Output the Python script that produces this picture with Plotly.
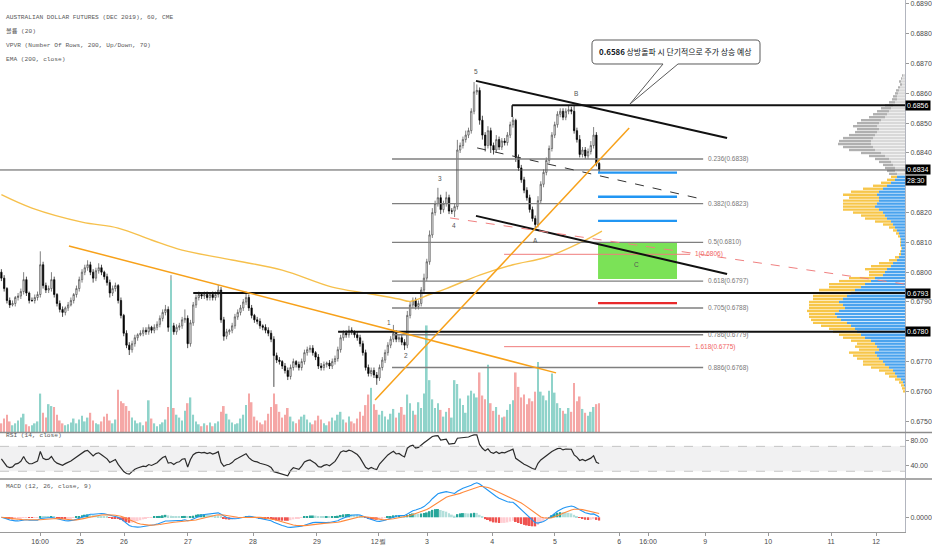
import pandas as pd
import plotly.graph_objects as go

# ---------------- data (prices in pips: 6834 -> 0.6834) ----------------
title_lines = ["AUSTRALIAN DOLLAR FUTURES (DEC 2019), 60, CME", "볼륨 (20)",
               "VPVR (Number Of Rows, 200, Up/Down, 70)", "EMA (200, close)"]

first_open = 6800
close_pips = [
    6798, 6794.5, 6790.5, 6789, 6789.5, 6791.5, 6792, 6793.5, 6797.5, 6793,
    6790.5, 6790.5, 6791.5, 6792.5, 6802.5, 6795.5, 6794, 6794.5, 6797.5, 6792.5,
    6789.5, 6787.5, 6786.5, 6788, 6789, 6790.5, 6792.5, 6794.5, 6797.5, 6800,
    6801.5, 6802.5, 6800, 6798, 6800.5, 6801.5, 6800, 6798.5, 6796.5, 6793,
    6794.5, 6795.5, 6790.5, 6785.5, 6779.5, 6775.5, 6774, 6776, 6778, 6779,
    6779.5, 6780.5, 6780, 6781.5, 6780.5, 6781.5, 6782.5, 6784.5, 6786.5, 6787.5,
    6781.5, 6782, 6780, 6781.5, 6782, 6784, 6784.5, 6776, 6783, 6789,
    6791.5, 6792.5, 6792, 6792.5, 6791.5, 6792.5, 6791.5, 6792.5, 6794, 6784,
    6778.5, 6780, 6780.5, 6782, 6785, 6786.5, 6788, 6790, 6791.5, 6788,
    6785.5, 6784, 6783.5, 6782, 6781.5, 6780.5, 6779.5, 6777.5, 6772, 6770.5,
    6770, 6768.5, 6767, 6765, 6768, 6770, 6769, 6768, 6770, 6773,
    6774, 6774.5, 6773, 6771.5, 6768.5, 6768, 6769, 6769.5, 6768.5, 6770,
    6771, 6774, 6778, 6779.5, 6779, 6780.5, 6780, 6779, 6778, 6776,
    6773, 6768, 6766, 6767, 6765.5, 6764.5, 6768, 6770.5, 6773, 6775.5,
    6777.5, 6779.5, 6777.5, 6778, 6776.5, 6775.5, 6785.5, 6789, 6790.5, 6788.5,
    6789.5, 6794, 6798, 6803.5, 6812.5, 6820, 6823, 6825, 6821, 6823,
    6825, 6820.5, 6820.5, 6822, 6841, 6842.5, 6844.5, 6846, 6847.5, 6854,
    6860.5, 6861, 6851, 6846, 6842.5, 6847.5, 6842.5, 6841, 6844.5, 6842,
    6844, 6843.5, 6846, 6849.5, 6851, 6838.5, 6835, 6831, 6827.5, 6825,
    6821, 6818, 6816, 6824, 6829.5, 6833.5, 6837.5, 6841.5, 6846, 6849.5,
    6853, 6854, 6852, 6854, 6854.5, 6854, 6847.5, 6844.5, 6839.5, 6841,
    6839, 6840.5, 6842.5, 6846, 6836.5, 6834.5,
]
# wick lengths above / below the candle body (pips)
wick_up = [
    1, 1, 0.5, 1, 1, 0.5, 1, 1, 2.5, 1,
    0.5, 1, 1, 1, 4.5, 1, 1, 1, 2.5, 1,
    0.5, 1, 1, 0.5, 1, 1, 0.5, 1, 1, 1,
    1, 1.5, 1, 1, 1, 1.5, 1, 0.5, 1, 1,
    1, 1, 0.5, 1, 0.5, 1, 1, 1, 1, 0.5,
    1, 1, 1, 1, 0.5, 1, 1, 1, 1, 1.5,
    1, 17, 1, 1, 1, 1, 3, 1, 1, 1,
    1, 1, 0.5, 1, 1, 0.5, 1, 1, 1.7, 1,
    1, 1, 0.5, 1, 1, 1, 1, 1, 2, 1,
    1, 0.5, 1, 1, 0.5, 1, 1, 1, 1, 1,
    1, 0.5, 1, 1, 1, 1, 0.5, 1, 1, 1,
    1, 1, 1, 0.5, 1, 1, 1, 0.5, 1, 1,
    1, 1, 1, 1, 1, 1.5, 1, 0.5, 1, 1,
    1, 1, 1, 1, 1, 1, 1, 1, 1, 1,
    1, 2.8, 1, 1, 1, 1, 1.5, 1, 1, 1,
    1, 1, 1.5, 1, 1.5, 1.5, 1, 3.3, 1, 1,
    2, 1, 1, 1, 3.4, 1, 1, 1.5, 1, 1,
    3.3, 2, 1, 1.5, 1, 1.5, 1, 1, 1.5, 1,
    1, 1, 1, 1, 1.1, 0.5, 1, 1, 1, 1,
    1, 1, 1, 1.5, 1, 1, 1, 1, 1, 1,
    1, 1, 1, 1, 1.6, 1, 2.1, 1, 1.5, 1,
    1, 1, 1.5, 2.7, 1, 0.5,
]
wick_dn = [
    1, 1, 1, 1, 0.5, 1, 1, 1, 1, 1,
    1, 0.5, 1, 1, 1, 1, 1, 1, 1, 1,
    1, 1, 1.5, 1, 1, 0.5, 1, 1, 1, 1,
    1, 1, 1, 1.5, 1, 1, 1, 1, 1, 1.5,
    1, 1, 1, 1, 1, 1, 1.8, 1, 1, 1,
    0.5, 1, 1, 1, 1, 1, 1, 1, 1, 1,
    1.5, 11, 1, 1, 1, 1, 1, 1.5, 1, 1,
    1, 1, 1, 1, 1, 1, 1, 1, 1, 1,
    1.5, 1, 1, 1, 1, 1, 1, 1, 1, 1,
    1, 1, 1, 1, 1, 1, 1, 1, 10.5, 1,
    1, 1, 1, 1.2, 1, 1, 1, 1, 1, 1,
    1, 1, 1, 1, 1, 1, 1, 1, 1, 1,
    1, 1, 1, 1, 1, 1, 1, 1, 1, 1,
    1, 1, 1, 1, 1, 2.3, 1, 1, 1, 1,
    1, 1, 1, 1, 1, 1.6, 1, 1, 1, 1,
    1, 1, 1, 1, 1, 1, 1, 1, 1.5, 1,
    1, 1, 1, 2, 1, 1, 1, 1, 1, 1,
    1, 1, 1.5, 1.5, 2, 1, 2.5, 1.5, 1, 1,
    1, 1, 1, 1, 1, 1.5, 1, 1, 1, 1,
    1, 1, 1.2, 1, 1, 1, 1, 1, 1, 1,
    1, 1, 1, 1, 1, 1, 1, 1, 1, 1,
    1, 1, 1, 1, 1, 1.2,
]
volume = [
    900, 1400, 1800, 1100, 700, 900, 1200, 1500, 1900, 800,
    600, 700, 900, 1100, 4000, 2000, 1500, 2900, 2700, 2600,
    1800, 1200, 900, 700, 800, 1000, 1400, 900, 1300, 1700,
    1100, 1500, 2000, 1200, 900, 800, 1100, 1600, 1900, 1200,
    900, 1300, 4400, 3200, 3000, 2700, 2200, 1500, 1200, 900,
    1000, 700, 1100, 3300, 1400, 900, 600, 800, 1000, 1300,
    2600, 15800, 2500, 1800, 1500, 1200, 2200, 3000, 3600, 1800,
    1100, 800, 600, 900, 700, 1000, 600, 900, 1100, 2100,
    2700, 1900, 1300, 1000, 800, 900, 1400, 1800, 2800, 4000,
    3100, 1600, 1200, 1000, 800, 1200, 1900, 2600, 4000, 2900,
    2100, 1500, 1800, 2500, 1600, 1100, 900, 1300, 1600, 1800,
    1300, 1000, 800, 1200, 1700, 1300, 900, 700, 1100, 1500,
    1200, 1800, 2100, 1300, 1000, 1600, 1100, 900, 1400, 2100,
    1700, 2800, 3900, 4600, 2900, 2300, 1800, 2200, 1600, 1300,
    1900, 2400, 1500, 2000, 2600, 1800, 3900, 3000, 2200, 1800,
    3100, 2500, 4000, 11100, 5400, 3400, 2500, 3000, 2300, 1600,
    2100, 2500, 1500, 5400, 5000, 3500, 2800, 2000, 3800, 4300,
    4000, 3600, 6200, 3800, 3400, 7000, 3000, 2200, 2600, 1800,
    1500, 1600, 2300, 2900, 3300, 6200, 4700, 3600, 3900, 2900,
    3500, 3200, 4200, 7300, 4200, 3800, 3300, 4300, 6100, 4100,
    3000, 2500, 2200, 1900, 2500, 2100, 5100, 3200, 3700, 2400,
    2000, 1700, 2100, 2600, 2900, 3000,
]

# EMA(200) read at a few bars
ema_bar = [0, 11, 29, 42, 54, 65, 83, 101, 119, 131, 143, 147, 154, 160, 172, 184, 196, 208, 216]
ema_pips = [6826, 6821.5, 6816.8, 6814.8, 6810.8, 6807.4, 6804.1, 6800.7, 6795.0, 6793.0,
            6791.0, 6790.2, 6792.5, 6794.5, 6799.0, 6802.5, 6805.0, 6809.8, 6813.8]

tick_bar = [13.9, 28.3, 44.1, 67.1, 90.5, 113.5, 135.5, 153.1, 176.5, 199.1,
            222.2, 232.6, 253.1, 275.8, 298.4, 314.6]
tick_text = ["16:00", "25", "26", "27", "28", "29", "12월", "3", "4", "5",
             "6", "16:00", "9", "10", "11", "12"]
# right-axis price ticks (0.6780 and 0.6830 sit under the black price boxes)
price_ticks = [0.6750, 0.6760, 0.6770, 0.6790, 0.6800, 0.6810, 0.6820,
               0.6840, 0.6850, 0.6860, 0.6870, 0.6880, 0.6890]

# visible-range volume profile, one row per pip from 6866 down to 6760 (hundreds of contracts)
vp_rows = list(range(6866, 6759, -1))
vp_up = [2, 3, 4, 3, 5, 6, 7, 8, 8, 10, 12, 14, 16, 18, 20, 24, 26, 28, 26, 28,
         30, 32, 34, 34, 32, 30, 24, 20, 16, 14, 12, 10, 10, 8, 8, 10, 14, 18, 22, 26,
         28, 26, 26, 28, 30, 26, 22, 20, 18, 14, 12, 10, 8, 6, 5, 4, 4, 4, 3, 4,
         4, 6, 8, 12, 14, 18, 20, 22, 30, 34, 40, 44, 50, 54, 58, 62, 66, 62, 60, 66,
         70, 68, 64, 58, 54, 50, 48, 44, 40, 34, 30, 28, 26, 30, 28, 26, 22, 20, 16, 12,
         10, 8, 4, 2, 1, 0, 0]
vp_dn = [1, 1, 2, 2, 2, 3, 3, 4, 5, 6, 8, 10, 12, 14, 16, 20, 22, 24, 22, 22,
         26, 30, 32, 33, 30, 26, 20, 16, 14, 12, 10, 10, 8, 8, 6, 8, 10, 14, 20, 28,
         34, 30, 36, 34, 32, 36, 30, 24, 22, 16, 10, 6, 4, 3, 2, 1, 1, 1, 1, 1,
         2, 4, 8, 14, 20, 22, 16, 14, 26, 32, 36, 32, 36, 32, 34, 30, 30, 34, 36, 32,
         26, 28, 30, 34, 30, 26, 24, 22, 22, 20, 18, 22, 20, 26, 24, 22, 20, 22, 18, 14,
         10, 8, 6, 4, 3, 3, 2]
value_area_top = 6833

# drawings on the chart
fib_ratio = ["0.236", "0.382", "0.5", "0.618", "0.705", "0.786", "0.886"]
fib_price = [0.6838, 0.6823, 0.6810, 0.6797, 0.6788, 0.6779, 0.6768]
ext_ratio = ["1", "1.618"]
ext_price = [0.6806, 0.6775]
blue_targets = [0.68334, 0.68253, 0.68172]
red_target = 0.67896
box_low, box_high = 0.67977, 0.68101
wave_text = ["1", "2", "3", "4", "5", "A", "B", "C"]
wave_bar = [139.4, 145.5, 157.8, 162.8, 170.7, 192.0, 206.7, 228.6]
wave_price = [0.67830, 0.67722, 0.68316, 0.68155, 0.68675, 0.68105, 0.68598, 0.68027]
price_boxes = [("0.6856", 0.6856), ("0.6834", 0.68343), ("0.6793", 0.6793), ("0.6780", 0.6780)]

# ---------------- derived series ----------------
n = len(close_pips)
bars = list(range(n))
open_pips = [first_open] + close_pips[:-1]
high_pips = [max(o, c) + w for o, c, w in zip(open_pips, close_pips, wick_up)]
low_pips = [min(o, c) - w for o, c, w in zip(open_pips, close_pips, wick_dn)]
p = lambda seq: [v / 10000 for v in seq]

closes = pd.Series(p(close_pips))
delta = closes.diff().fillna(0)
# RSI(14): start the Wilder averages from a neutral state (no history before the window)
seed = pd.Series([0.0001])
gain = pd.concat([seed, delta.clip(lower=0)], ignore_index=True).ewm(alpha=1 / 14, adjust=False).mean()[1:]
loss = pd.concat([seed, -delta.clip(upper=0)], ignore_index=True).ewm(alpha=1 / 14, adjust=False).mean()[1:]
rsi = (100 - 100 / (1 + gain.values / loss.values)).clip(0, 100)
macd = closes.ewm(span=12, adjust=False).mean() - closes.ewm(span=26, adjust=False).mean()
signal = macd.ewm(span=9, adjust=False).mean()
hist = macd - signal

hist_colors = []
for i, h in enumerate(hist):
    prev = hist.iloc[i - 1] if i else 0
    if h >= 0:
        hist_colors.append("#26a69a" if h >= prev else "#b2dfdb")
    else:
        hist_colors.append("#ffcdd2" if h >= prev else "#ef5350")

vol_colors = ["#8fd3ca" if c >= o else "#f5a7a6" for o, c in zip(open_pips, close_pips)]
up_colors = ["#d9d9d9" if r >= value_area_top else "#4aa3ee" for r in vp_rows]
dn_colors = ["#b0b0b0" if r >= value_area_top else "#f7c64a" for r in vp_rows]

# ---------------- figure ----------------
fig = go.Figure()

fig.add_trace(go.Bar(x=bars, y=volume, yaxis="y2", marker_color=vol_colors,
                     marker_line_width=0, width=0.6))
fig.add_trace(go.Bar(y=p(vp_rows), x=vp_up, xaxis="x2", yaxis="y", orientation="h",
                     marker_color=up_colors, marker_line_width=0, width=0.00008))
fig.add_trace(go.Bar(y=p(vp_rows), x=vp_dn, base=vp_up, xaxis="x2", yaxis="y", orientation="h",
                     marker_color=dn_colors, marker_line_width=0, width=0.00008))
fig.add_trace(go.Scatter(x=ema_bar, y=p(ema_pips), mode="lines",
                         line=dict(color="#f6c04c", width=1.4, shape="spline")))
fig.add_trace(go.Candlestick(
    x=bars, open=p(open_pips), high=p(high_pips), low=p(low_pips), close=p(close_pips),
    increasing=dict(fillcolor="#ffffff", line=dict(color="#4a4a4a", width=0.7)),
    decreasing=dict(fillcolor="#000000", line=dict(color="#000000", width=0.7)),
    whiskerwidth=0))

fig.add_trace(go.Scatter(x=bars, y=rsi, yaxis="y3", mode="lines",
                         line=dict(color="#2b2b2b", width=1.2)))
fig.add_trace(go.Bar(x=bars, y=hist, yaxis="y4", marker_color=hist_colors,
                     marker_line_width=0, width=0.7))
fig.add_trace(go.Scatter(x=bars, y=macd, yaxis="y4", mode="lines",
                         line=dict(color="#2196f3", width=1.1)))
fig.add_trace(go.Scatter(x=bars, y=signal, yaxis="y4", mode="lines",
                         line=dict(color="#ff8a3d", width=1.1)))

X_END = 325
shapes = []


def seg(x0, y0, x1, y1, color, width=1.5, dash="solid", yref="y"):
    shapes.append(dict(type="line", xref="x", yref=yref, x0=x0, y0=y0, x1=x1, y1=y1,
                       line=dict(color=color, width=width, dash=dash)))


# green target zone
shapes.append(dict(type="rect", xref="x", yref="y", x0=214.6, x1=243, y0=box_low, y1=box_high,
                   fillcolor="#7be257", line_width=0))
for fp in fib_price:
    seg(140.5, fp, 252.4, fp, "#7f7f7f", 1.4)
for ep in ext_price:
    seg(180.8, ep, 247.7, ep, "#f07c7c", 1)
for bp in blue_targets:
    seg(214.6, bp, 243, bp, "#2196f3", 2.4)
seg(214.6, red_target, 243, red_target, "#e8292b", 2.4)

# horizontal levels
seg(183.7, 0.6856, X_END, 0.6856, "#111111", 2)
seg(183.7, 0.6856, 183.7, 0.68521, "#111111", 1.5)
seg(-0.5, 0.68343, X_END, 0.68343, "#555555", 1)
seg(69, 0.6793, X_END, 0.6793, "#111111", 2)
seg(121.1, 0.6780, X_END, 0.6780, "#111111", 2)

# trend lines
seg(170.7, 0.68642, 261.0, 0.68450, "#111111", 2)
seg(170.7, 0.68189, 261.0, 0.67994, "#111111", 2)
seg(171.1, 0.68417, 250.2, 0.68249, "#333333", 1, "dash")
seg(161.4, 0.68182, X_END, 0.67960, "#f08080", 1, "dash")
seg(134.4, 0.67571, 225.8, 0.68484, "#f7a11a", 1.5)
seg(24.3, 0.68088, 199.5, 0.67662, "#f7a11a", 1.5)

# RSI band
shapes.append(dict(type="rect", xref="paper", yref="y3", x0=0, x1=1, y0=30, y1=70,
                   fillcolor="#f1f1f2", line_width=0, layer="below"))
for lv in (30, 70):
    shapes.append(dict(type="line", xref="paper", yref="y3", x0=0, x1=1, y0=lv, y1=lv,
                       line=dict(color="#b8b8b8", width=0.8, dash="dash")))

# pane separators
for yy in (0.1870, 0.0996):
    shapes.append(dict(type="line", xref="paper", yref="paper", x0=0, x1=1.03, y0=yy, y1=yy,
                       line=dict(color="#8c8c8c", width=1.5)))

# callout bubble
x0, x1, yt, yb = 0.65414, 0.83978, 0.92481, 0.87970
rx, ry = 0.00442, 0.00752
wl, wr, tx, ty = 0.73260, 0.74917, 0.69613, 0.80451
path = (f"M {x0 + rx},{yt} L {x1 - rx},{yt} Q {x1},{yt} {x1},{yt - ry} L {x1},{yb + ry} "
        f"Q {x1},{yb} {x1 - rx},{yb} L {wr},{yb} L {tx},{ty} L {wl},{yb} L {x0 + rx},{yb} "
        f"Q {x0},{yb} {x0},{yb + ry} L {x0},{yt - ry} Q {x0},{yt} {x0 + rx},{yt} Z")
shapes.append(dict(type="path", xref="paper", yref="paper", path=path,
                   fillcolor="#ffffff", line=dict(color="#5a5a5a", width=1)))

annotations = []
small = dict(family="Liberation Sans", size=6.5, color="#787878")
for r, fp in zip(fib_ratio, fib_price):
    annotations.append(dict(x=253.3, y=fp, xref="x", yref="y", text=f"{r}({fp:.4f})",
                            showarrow=False, xanchor="left", font=small))
for r, ep in zip(ext_ratio, ext_price):
    annotations.append(dict(x=248.6, y=ep, xref="x", yref="y", text=f"{r}({ep:.4f})",
                            showarrow=False, xanchor="left",
                            font=dict(family="Liberation Sans", size=6.5, color="#f06464")))
for t, wb, wp in zip(wave_text, wave_bar, wave_price):
    annotations.append(dict(x=wb, y=wp, xref="x", yref="y", text=t, showarrow=False,
                            font=dict(family="Liberation Sans", size=6.5, color="#555555")))
for t, pr in price_boxes:
    annotations.append(dict(x=1.0, y=pr, xref="paper", yref="y", text=t, showarrow=False,
                            xanchor="left", bgcolor="#000000", borderpad=1,
                            font=dict(family="Liberation Sans", size=7, color="#ffffff")))
annotations.append(dict(x=1.0, y=0.68343, xref="paper", yref="y", text="28:30", yshift=-11,
                        showarrow=False, xanchor="left", bgcolor="#000000", borderpad=1,
                        font=dict(family="Liberation Sans", size=7, color="#ffffff")))
for t, yy in zip(title_lines, (0.9774, 0.9511, 0.9248, 0.8985)):
    annotations.append(dict(x=0.004, y=yy, xref="paper", yref="paper", text=t, showarrow=False,
                            xanchor="left", font=dict(family="Liberation Mono, Noto Sans CJK KR",
                                                      size=6.2, color="#5a5a5a")))
annotations.append(dict(x=0.004, y=0.171, xref="paper", yref="paper", text="RSI (14, close)",
                        showarrow=False, xanchor="left",
                        font=dict(family="Liberation Mono", size=6.2, color="#5a5a5a")))
annotations.append(dict(x=0.004, y=0.0752, xref="paper", yref="paper", text="MACD (12, 26, close, 9)",
                        showarrow=False, xanchor="left",
                        font=dict(family="Liberation Mono", size=6.2, color="#5a5a5a")))
annotations.append(dict(x=0.6597, y=0.9023, xref="paper", yref="paper", xanchor="left",
                        yanchor="middle",
                        text="<b>0.6586</b> 상방돌파 시 단기적으로 주가 상승 예상", showarrow=False,
                        font=dict(family="Noto Sans CJK KR", size=7.9, color="#131722")))

macd_top = float(macd.max()) * 1.08
macd_bottom = -macd_top * 0.283 / 0.717
axis_font = dict(family="Liberation Sans", size=7, color="#4a4a4a")

fig.update_layout(
    width=932, height=550, margin=dict(l=0, r=27, t=0, b=18, autoexpand=False),
    paper_bgcolor="#ffffff", plot_bgcolor="#ffffff", showlegend=False,
    barmode="overlay", shapes=shapes, annotations=annotations, font=axis_font,
    xaxis=dict(domain=[0, 1], range=[-0.5, X_END], anchor="y4", tickvals=tick_bar,
               ticktext=tick_text, showgrid=False, zeroline=False, showline=True,
               linecolor="#9a9a9a", ticks="outside", ticklen=3, tickcolor="#9a9a9a",
               tickfont=axis_font, rangeslider=dict(visible=False)),
    xaxis2=dict(overlaying="x", range=[905, 0], visible=False, anchor="y"),
    yaxis=dict(domain=[0.188, 1], range=[0.674637, 0.689134], side="right", anchor="x",
               tickvals=price_ticks, tickformat=".4f",
               showgrid=False, zeroline=False, showline=True, linecolor="#b2b5be",
               ticks="outside", ticklen=3, tickcolor="#9a9a9a", tickfont=axis_font),
    yaxis2=dict(overlaying="y", range=[0, 45000], visible=False),
    yaxis3=dict(domain=[0.1015, 0.1861], range=[19.2, 91.5], side="right", anchor="x",
                tickvals=[40, 80], ticktext=["40.00", "80.00"], showgrid=False, zeroline=False,
                showline=True, linecolor="#b2b5be", ticks="outside", ticklen=3,
                tickcolor="#9a9a9a", tickfont=axis_font),
    yaxis4=dict(domain=[0, 0.0977], range=[macd_bottom, macd_top], side="right", anchor="x",
                tickvals=[0], ticktext=["0.0000"], showgrid=False, zeroline=False,
                showline=True, linecolor="#b2b5be", ticks="outside", ticklen=3,
                tickcolor="#9a9a9a", tickfont=axis_font),
)

# the page's default 8px body margin would push the fixed-size figure off the window
fig.write_html("out.html", config={"displayModeBar": False},
               post_script="document.body.style.margin='0';")
